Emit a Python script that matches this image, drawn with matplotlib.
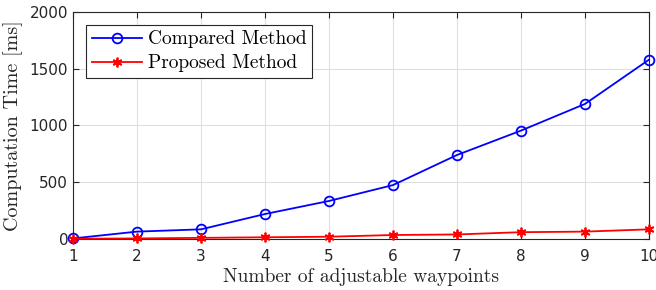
import matplotlib.pyplot as plt

waypoints = [1, 2, 3, 4, 5, 6, 7, 8, 9, 10]
compared = [5, 65, 85, 220, 335, 475, 740, 955, 1190, 1580]
proposed = [2, 5, 10, 15, 20, 35, 40, 60, 65, 85]

fig = plt.figure(figsize=(6.56, 2.9), dpi=100)
ax = fig.add_axes([0.1113, 0.1759, 0.878, 0.7827])

ax.plot(waypoints, compared, color='#0000ff', lw=1.3, marker='o', ms=7,
        mfc='none', mew=1.3, label='Compared Method', clip_on=False, zorder=3)
ax.plot(waypoints, proposed, color='#ff0000', lw=1.3, marker=(6, 2, 0), ms=7,
        mew=1.3, label='Proposed Method', clip_on=False, zorder=3)

ax.set_xlim(1, 10)
ax.set_ylim(0, 2000)
ax.set_xticks(range(1, 11))
ax.set_yticks([0, 500, 1000, 1500, 2000])

ax.grid(True, color='#dfdfdf', lw=0.8)
ax.set_axisbelow(True)
ax.tick_params(direction='in', top=True, right=True, labelsize=11,
               colors='#262626', length=4, width=0.8)
ax.tick_params(axis='x', pad=7)
for sp in ax.spines.values():
    sp.set_color('#262626')
    sp.set_linewidth(0.8)

ax.set_xlabel('Number of adjustable waypoints', fontfamily='cmr10', fontsize=14,
              color='#262626', labelpad=3)
ax.set_ylabel('Computation Time [ms]', fontfamily='cmr10', fontsize=14.5,
              color='#262626', labelpad=5)

leg = ax.legend(loc='upper left', bbox_to_anchor=(0.012, 0.97), prop={'family': 'cmr10', 'size': 14},
                fancybox=False, edgecolor='#262626', framealpha=1, borderpad=0.3,
                labelspacing=0.3, handlelength=2.6, handletextpad=0.3, borderaxespad=0.3)
leg.get_frame().set_linewidth(0.8)

plt.savefig('out.png', dpi=100)
